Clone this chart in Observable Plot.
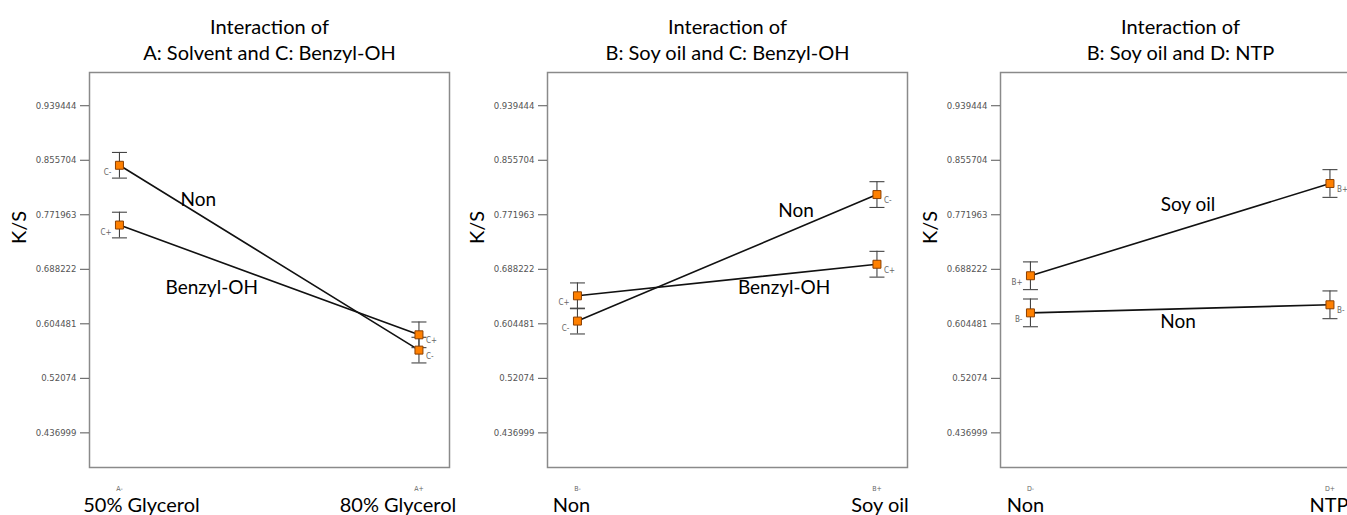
<!DOCTYPE html>
<html><head><meta charset="utf-8">
<script src="https://cdn.jsdelivr.net/npm/d3@7"></script>
<script src="https://cdn.jsdelivr.net/npm/@observablehq/plot@0.6"></script>
<style>
html,body{margin:0;padding:0;background:#fff;overflow:hidden;width:1347px;height:515px}
#wrap{position:relative;width:1347px;height:515px;overflow:hidden}
.p{position:absolute;top:0}
.p svg{max-width:none !important}
</style>
</head><body><div id="wrap"></div>
<script>
// ---- data ----
const yTicks = [0.436999, 0.52074, 0.604481, 0.688222, 0.771963, 0.855704, 0.939444];
const yLabel = "K/S";

const p1Title = "Interaction of\nA: Solvent and C: Benzyl-OH";
const p1Levels = ["A-", "A+"];
const p1LevelNames = ["50% Glycerol", "80% Glycerol"];
const p1Series = ["C-", "C+"];
const p1SeriesNames = ["Non", "Benzyl-OH"];
const p1Means = [[0.8480, 0.5641], [0.7562, 0.5876]];
const p1Err = 0.0197;
const p1NameT = [0.263, 0.308];
const p1NameY = [0.795, 0.660];

const p2Title = "Interaction of\nB: Soy oil and C: Benzyl-OH";
const p2Levels = ["B-", "B+"];
const p2LevelNames = ["Non", "Soy oil"];
const p2Series = ["C-", "C+"];
const p2SeriesNames = ["Non", "Benzyl-OH"];
const p2Means = [[0.6087, 0.8030], [0.6475, 0.6960]];
const p2Err = 0.0198;
const p2NameT = [0.73, 0.69];
const p2NameY = [0.7777, 0.659];

const p3Title = "Interaction of\nB: Soy oil and D: NTP";
const p3Levels = ["D-", "D+"];
const p3LevelNames = ["Non", "NTP"];
const p3Series = ["B-", "B+"];
const p3SeriesNames = ["Non", "Soy oil"];
const p3Means = [[0.6213, 0.6337], [0.6783, 0.8200]];
const p3Err = 0.0213;
const p3NameT = [0.493, 0.526];
const p3NameY = [0.6072, 0.7866];

// ---- layout / style ----
const FONT = "Lato, 'Open Sans', sans-serif";
const NARROW = "'Liberation Sans Narrow', 'Arial Narrow', 'DejaVu Sans Condensed', sans-serif";
const layout = [
  {left: 0,   marginLeft: 89, marginRight: 6, nameDx: [22, -21]},
  {left: 455, marginLeft: 92, marginRight: 5, nameDx: [-6, 3]},
  {left: 912, marginLeft: 88, marginRight: 2, nameDx: [-5, -1]}
];
const capSymbol = {draw(ctx) { ctx.moveTo(-7.5, 0); ctx.lineTo(7.5, 0); }};

function panel(title, levels, levelNames, series, seriesNames, means, err, nameT, nameY, lay) {
  const rows = series.flatMap((s, si) => levels.map((lv, li) => ({
    xi: li, mean: means[si][li], code: s, series: seriesNames[si]
  })));
  const names = seriesNames.map((n, i) => ({name: n, t: nameT[i], y: nameY[i]}));
  const frameW = 360;
  return Plot.plot({
    width: lay.marginLeft + frameW + lay.marginRight,
    height: 515,
    marginLeft: lay.marginLeft,
    marginRight: lay.marginRight,
    marginTop: 72,
    marginBottom: 48,
    style: {background: "transparent", overflow: "visible"},
    x: {domain: [-0.1, 1.102], axis: null},
    y: {domain: [0.3838, 0.9905], axis: null},
    marks: [
      Plot.frame({stroke: "#8a8a8a", strokeWidth: 1.5}),
      Plot.axisY(yTicks, {tickSize: 9, tickPadding: 4, fontSize: 9.5, fontFamily: NARROW,
        color: "#555", tickFormat: d => String(d)}),
      Plot.axisX([0, 1], {tickSize: 0, tickPadding: 19, fontSize: 7, fontFamily: NARROW,
        color: "#666", tickFormat: i => levels[i]}),
      Plot.text([levelNames[0]], {x: () => 0, frameAnchor: "bottom", dy: 30, lineAnchor: "top",
        dx: lay.nameDx[0], fontSize: 20, fontFamily: FONT, fill: "#000"}),
      Plot.text([levelNames[1]], {x: () => 1, frameAnchor: "bottom", dy: 30, lineAnchor: "top",
        dx: lay.nameDx[1], fontSize: 20, fontFamily: FONT, fill: "#000"}),
      Plot.text([title], {frameAnchor: "top", dy: -57, lineAnchor: "top", lineHeight: 1.3,
        fontSize: 20, fontFamily: FONT, fill: "#000"}),
      Plot.text([yLabel], {frameAnchor: "left", dx: -70, dy: -26, rotate: -90,
        fontSize: 20, fontFamily: FONT, fill: "#000"}),
      Plot.line(rows, {x: "xi", y: "mean", z: "code", stroke: "#111", strokeWidth: 1.6}),
      Plot.ruleX(rows, {x: "xi", y1: d => d.mean - err, y2: d => d.mean + err, stroke: "#444", strokeWidth: 1.1}),
      Plot.dot(rows, {x: "xi", y: d => d.mean + err, symbol: capSymbol, fill: "none", stroke: "#444", strokeWidth: 1.1}),
      Plot.dot(rows, {x: "xi", y: d => d.mean - err, symbol: capSymbol, fill: "none", stroke: "#444", strokeWidth: 1.1}),
      Plot.dot(rows, {x: "xi", y: "mean", symbol: "square", r: 4.5, fill: "#ff8000", stroke: "#8b3f00", strokeWidth: 1}),
      Plot.text(rows.filter(d => d.xi === 0), {x: "xi", y: "mean", text: "code", textAnchor: "end",
        dx: -8, dy: 7, fontSize: 8, fontFamily: NARROW, fill: "#666"}),
      Plot.text(rows.filter(d => d.xi === 1), {x: "xi", y: "mean", text: "code", textAnchor: "start",
        dx: 7, dy: 6, fontSize: 8, fontFamily: NARROW, fill: "#666"}),
      Plot.text(names, {x: "t", y: "y", text: "name", fontSize: 19, fontFamily: FONT, fill: "#000"})
    ]
  });
}

const wrap = document.getElementById("wrap");
const panels = [
  panel(p1Title, p1Levels, p1LevelNames, p1Series, p1SeriesNames, p1Means, p1Err, p1NameT, p1NameY, layout[0]),
  panel(p2Title, p2Levels, p2LevelNames, p2Series, p2SeriesNames, p2Means, p2Err, p2NameT, p2NameY, layout[1]),
  panel(p3Title, p3Levels, p3LevelNames, p3Series, p3SeriesNames, p3Means, p3Err, p3NameT, p3NameY, layout[2])
];
panels.forEach((svg, i) => {
  const d = document.createElement("div");
  d.className = "p";
  d.style.left = layout[i].left + "px";
  const w = svg.getAttribute("width");
  d.style.width = w + "px";
  svg.style.maxWidth = "none";
  svg.style.width = w + "px";
  d.appendChild(svg);
  wrap.appendChild(d);
});
</script>
</body></html>
